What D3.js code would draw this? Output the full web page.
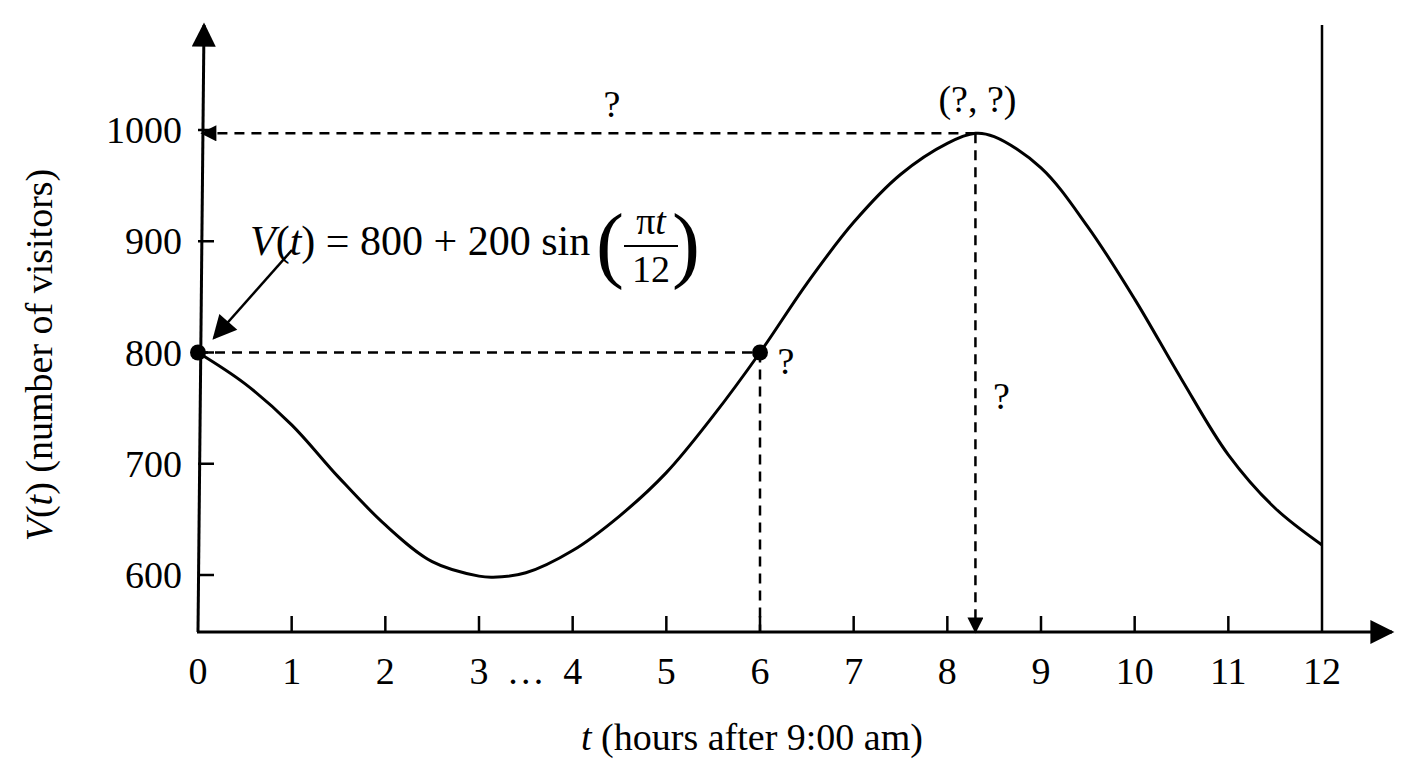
<!DOCTYPE html><html><head><meta charset="utf-8">
<script src="https://cdn.jsdelivr.net/npm/d3@7"></script>
<style>body{margin:0;background:#fff}text{font-family:"Liberation Serif","Times New Roman",serif;fill:#000}</style>
</head><body><svg id="c" width="1408" height="768"></svg>
<script>
const xTicks=[0,1,2,3,4,5,6,7,8,9,10,11,12];
const yTicks=[600,700,800,900,1000];
const curveT=[0,0.5,1,1.5,2,2.5,3,3.15,3.5,4,4.5,5,5.5,6,6.5,7,7.5,8,8.3,8.5,9,9.5,10,10.5,11,11.5,12];
const curveV=[800,772,735,688,645,612,599,598,602,622,653,692,743,800,862,917,960,988,997,994,966,913,848,776,708,660,627];
const marked=[[0,800],[6,800]];
const peak=[8.3,997];

const svg=d3.select("#c");
const x=d3.scaleLinear().domain([0,12]).range([198,1322]);
const y=d3.scaleLinear().domain([600,1000]).range([575,130]);
const y0=632;
const defs=svg.append("defs");
function mk(id,w,h){defs.append("marker").attr("id",id).attr("viewBox","0 0 10 10").attr("refX",9).attr("refY",5)
 .attr("markerWidth",w).attr("markerHeight",h).attr("markerUnits","userSpaceOnUse").attr("orient","auto")
 .append("path").attr("d","M0,0L10,5L0,10Z");}
mk("big",28,24);mk("mid",22,16);
function line(x1,y1,x2,y2,dash,marker,w){const l=svg.append("line").attr("x1",x1).attr("y1",y1).attr("x2",x2).attr("y2",y2)
 .attr("stroke","#000").attr("stroke-width",w||2.5);if(dash)l.attr("stroke-dasharray","10,7");if(marker)l.attr("marker-end",`url(#${marker})`);return l;}
const FS=38;
line(x(0)-1,y0,1392,y0,false,"big",3);
line(x(0),y0,204,25,false,"big",3);
line(x(12),y0,x(12),25,false,null,2.5);
xTicks.forEach(t=>{ if(t>0&&t<12) line(x(t),y0,x(t),y0-16);
 svg.append("text").attr("x",x(t)).attr("y",y0+52).attr("text-anchor","middle").attr("font-size",FS).text(t);});
svg.append("text").attr("x",(x(3)+x(4))/2).attr("y",y0+52).attr("text-anchor","middle").attr("font-size",FS).text("…");
yTicks.forEach(v=>{line(x(0),y(v),x(0)+16,y(v));
 svg.append("text").attr("x",182).attr("y",y(v)+13).attr("text-anchor","end").attr("font-size",FS).text(v);});
const xl=svg.append("text").attr("x",752).attr("y",750).attr("text-anchor","middle").attr("font-size",FS);
xl.append("tspan").attr("font-style","italic").text("t");xl.append("tspan").text(" (hours after 9:00 am)");
const yl=svg.append("text").attr("transform","translate(52,355) rotate(-90)").attr("text-anchor","middle").attr("font-size",FS);
yl.append("tspan").attr("font-style","italic").text("V");yl.append("tspan").text("(");
yl.append("tspan").attr("font-style","italic").text("t");yl.append("tspan").text(") (number of visitors)");
line(x(peak[0]),y(peak[1]),x(0)+4,y(peak[1]),true,"mid");
line(x(peak[0]),y(peak[1]),x(peak[0]),y0,true,"mid");
line(x(0),y(800),x(6),y(800),true);
line(x(6),y(800),x(6),y0,true);
const pts=curveT.map((t,i)=>[t,curveV[i]]);
svg.append("path").datum(pts).attr("d",d3.line().x(d=>x(d[0])).y(d=>y(d[1])).curve(d3.curveCatmullRom.alpha(0.5))).attr("stroke","#000").attr("stroke-width",3).attr("fill","none");
svg.selectAll("circle.p").data(marked).join("circle").attr("cx",d=>x(d[0])).attr("cy",d=>y(d[1])).attr("r",8);
const q=(tx,ty,s)=>svg.append("text").attr("x",tx).attr("y",ty).attr("font-size",FS).attr("text-anchor","middle").text(s);
q(612,117,"?");q(x(peak[0])+2,112,"(?, ?)");q(x(6)+26,374,"?");q(x(peak[0])+26,409,"?");
line(292,250,214,338,false,"big",2.5);
const f=svg.append("text").attr("x",250).attr("y",255).attr("font-size",42);
f.append("tspan").attr("font-style","italic").text("V");f.append("tspan").text("(");
f.append("tspan").attr("font-style","italic").text("t");f.append("tspan").text(") = 800 + 200 sin");
svg.append("text").attr("x",596).attr("y",272).attr("font-size",84).text("(");
svg.append("text").attr("x",672).attr("y",272).attr("font-size",84).text(")");
const n=svg.append("text").attr("x",651).attr("y",234).attr("font-size",38).attr("text-anchor","middle");
n.append("tspan").text("π");n.append("tspan").attr("font-style","italic").text("t");
line(624,246,678,246,false,null,2);
svg.append("text").attr("x",651).attr("y",282).attr("font-size",38).attr("text-anchor","middle").text("12");
</script></body></html>
